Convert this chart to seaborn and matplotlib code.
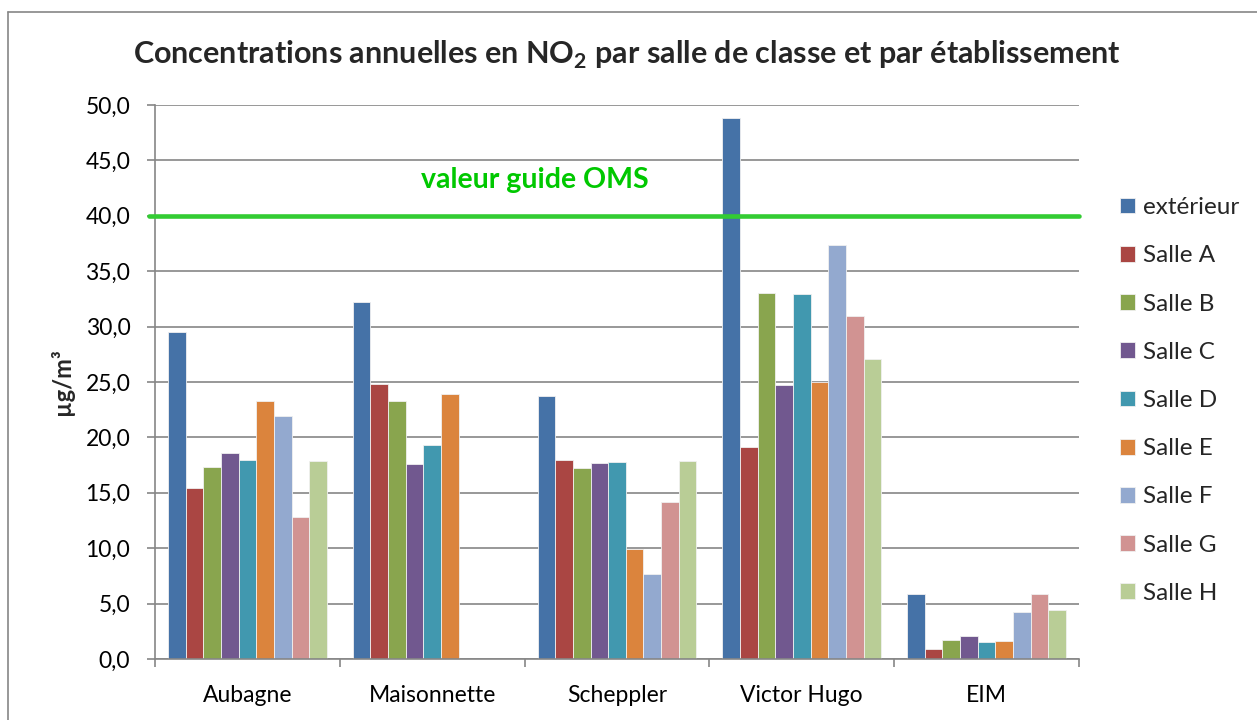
import numpy as np
import pandas as pd
import seaborn as sns
import matplotlib.pyplot as plt
from matplotlib.ticker import FuncFormatter, FixedLocator
from matplotlib.lines import Line2D

# === Data ===
categories = ["Aubagne", "Maisonnette", "Scheppler", "Victor Hugo", "EIM"]
series = ["extérieur", "Salle A", "Salle B", "Salle C", "Salle D",
          "Salle E", "Salle F", "Salle G", "Salle H"]

exterieur = [29.5, 32.2, 23.7, 48.8, 5.9]
salle_a = [15.4, 24.8, 18.0, 19.1, 0.9]
salle_b = [17.3, 23.3, 17.2, 33.0, 1.7]
salle_c = [18.6, 17.6, 17.7, 24.7, 2.1]
salle_d = [18.0, 19.3, 17.8, 32.9, 1.5]
salle_e = [23.3, 23.9, 9.9, 25.0, 1.6]
salle_f = [21.9, np.nan, 7.7, 37.4, 4.2]
salle_g = [12.8, np.nan, 14.2, 31.0, 5.9]
salle_h = [17.9, np.nan, 17.9, 27.1, 4.4]

guide_value = 40.0
colors = ["#4572A7", "#AA4643", "#89A54E", "#71588F", "#4198AF",
          "#DB843D", "#93A9CF", "#D19392", "#B9CD96"]

values = [exterieur, salle_a, salle_b, salle_c, salle_d,
          salle_e, salle_f, salle_g, salle_h]
rows = []
for name, vals in zip(series, values):
    for cat, v in zip(categories, vals):
        rows.append({"site": cat, "serie": name, "value": v})
df = pd.DataFrame(rows).dropna()

# === Style ===
sns.set_theme(style="white")
plt.rcParams['font.family'] = ['Lato', 'DejaVu Sans']
plt.rcParams['mathtext.fontset'] = 'custom'
plt.rcParams['mathtext.rm'] = 'Lato'
plt.rcParams['mathtext.bf'] = 'Lato:bold'

fig = plt.figure(figsize=(12.57, 7.2), dpi=100, facecolor='white')
ax = fig.add_axes([155 / 1257, 1 - 659 / 720, 924 / 1257, 554 / 720])

grey = '#868686'

sns.barplot(data=df, x="site", y="value", hue="serie",
            order=categories, hue_order=series, palette=colors, saturation=1,
            width=0.86, errorbar=None, edgecolor='#f0f0f0', linewidth=0.6,
            ax=ax)

ax.set_xlim(-0.5, 4.5)
ax.set_ylim(0, 50)
ax.set_yticks(np.arange(0, 51, 5))
ax.yaxis.set_major_formatter(FuncFormatter(lambda v, p: f"{v:.1f}".replace('.', ',')))
ax.yaxis.grid(True, color=grey, linewidth=1.2)
ax.set_axisbelow(True)

for s in ['top', 'right']:
    ax.spines[s].set_visible(False)
for s in ['left', 'bottom']:
    ax.spines[s].set_color(grey)
    ax.spines[s].set_linewidth(1.2)

ax.tick_params(axis='y', direction='out', length=5.8, width=1.2, color=grey,
               left=True, pad=12, labelsize=16.5, labelcolor='black')
ax.tick_params(axis='x', which='major', length=0, pad=19, labelsize=16.5, labelcolor='black')
ax.xaxis.set_minor_locator(FixedLocator(np.arange(-0.5, 4.6, 1.0)))
ax.tick_params(axis='x', which='minor', direction='out', length=5.8, width=1.2,
               color=grey, bottom=True)

ax.set_xlabel("")
ax.set_ylabel("µg/m³", fontsize=17, fontweight='bold', labelpad=8)

# WHO guide line
ax.axhline(guide_value, xmin=-0.006, color='#33CC33', linewidth=3.3, zorder=3, clip_on=False)
ax.text(1.556, 43.2, "valeur guide OMS", color='#00C800', fontsize=20.5,
        fontweight='bold', ha='center', va='center')

# Title
fig.text(0.499, 0.923,
         r"Concentrations annuelles en NO$_{\mathbf{2}}$ par salle de classe et par établissement",
         ha='center', va='center', fontsize=22, fontweight='bold')

# Legend
sns.move_legend(ax, loc='center left', bbox_to_anchor=(1.021, 0.4666),
                frameon=False, title=None, fontsize=17.5, labelspacing=1.12,
                handlelength=0.62, handleheight=0.62, handletextpad=0.3)

# Outer frame (left and top edges)
fig.add_artist(Line2D([8 / 1257, 8 / 1257], [0, 1 - 12 / 720], color=grey, linewidth=1.2))
fig.add_artist(Line2D([8 / 1257, 1], [1 - 12 / 720, 1 - 12 / 720], color=grey, linewidth=1.2))

plt.savefig("out.png", dpi=100)
